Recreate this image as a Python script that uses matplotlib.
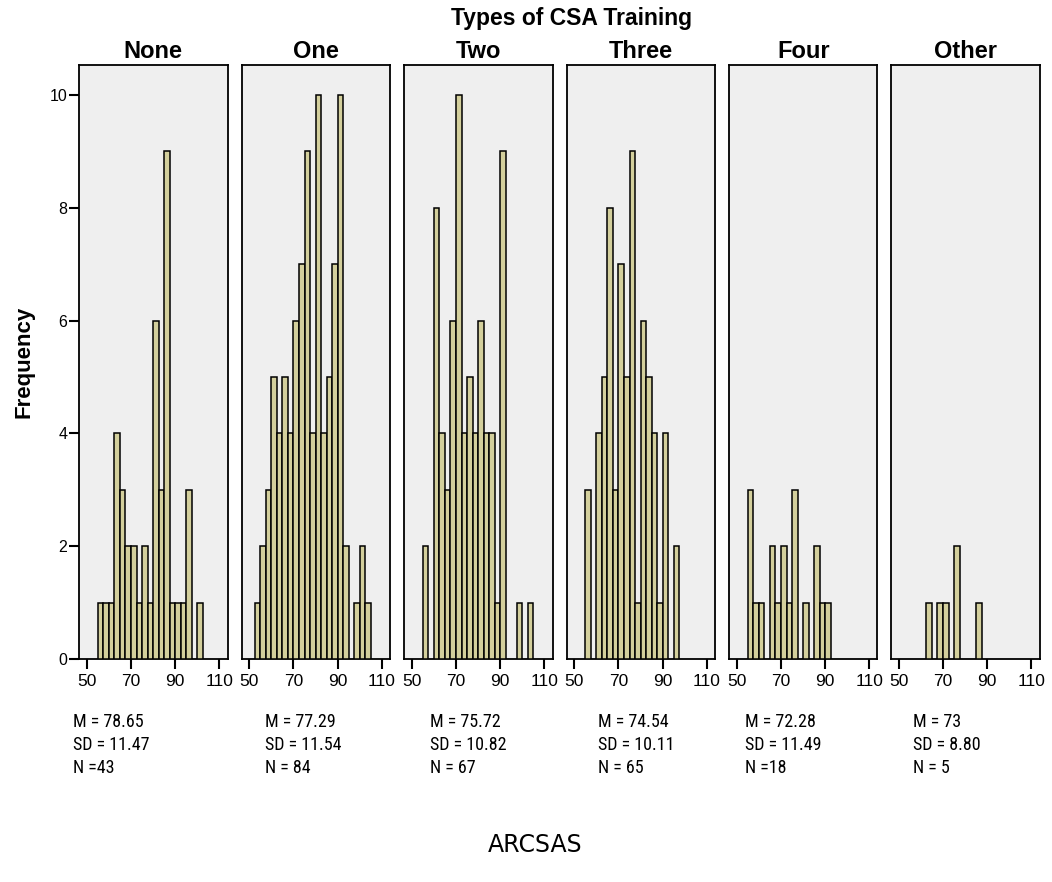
import matplotlib
matplotlib.use("Agg")
import matplotlib.pyplot as plt
import numpy as np

groups = ["None", "One", "Two", "Three", "Four", "Other"]
bin_starts = [52.5, 55, 57.5, 60, 62.5, 65, 67.5, 70, 72.5, 75, 77.5,
              80, 82.5, 85, 87.5, 90, 92.5, 95, 97.5, 100, 102.5]
counts_none = [0, 1, 1, 1, 4, 3, 2, 2, 1, 2, 1, 6, 3, 9, 1, 1, 1, 3, 0, 1, 0]
counts_one = [1, 2, 3, 5, 4, 5, 4, 6, 7, 9, 4, 10, 4, 5, 7, 10, 2, 0, 1, 2, 1]
counts_two = [0, 2, 0, 8, 4, 3, 6, 10, 4, 5, 4, 6, 4, 4, 1, 9, 0, 0, 1, 0, 1]
counts_three = [0, 3, 0, 4, 5, 8, 3, 7, 5, 9, 1, 6, 5, 4, 1, 4, 0, 2, 0, 0, 0]
counts_four = [0, 3, 1, 1, 0, 2, 1, 2, 1, 3, 0, 1, 0, 2, 1, 1, 0, 0, 0, 0, 0]
counts_other = [0, 0, 0, 0, 1, 0, 1, 1, 0, 2, 0, 0, 0, 1, 0, 0, 0, 0, 0, 0, 0]
all_counts = [counts_none, counts_one, counts_two, counts_three, counts_four, counts_other]

means = ["78.65", "77.29", "75.72", "74.54", "72.28", "73"]
sds = ["11.47", "11.54", "10.82", "10.11", "11.49", "8.80"]
ns = ["N =43", "N = 84", "N = 67", "N = 65", "N =18", "N = 5"]

x_ticks = [50, 70, 90, 110]
y_ticks = [0, 2, 4, 6, 8, 10]

W, H = 1052, 882
fig = plt.figure(figsize=(W / 100, H / 100), dpi=100)

bar_color = "#d3cf9c"
bg_color = "#efefef"
sans = ["Liberation Sans", "Arial", "DejaVu Sans"]
narrow = ["Liberation Sans Narrow", "Roboto Condensed", "Liberation Sans", "DejaVu Sans"]

panel_lefts = [79, 241.5, 404, 566.5, 729, 891]
panel_w = 148.5
top_px, bot_px = 65, 659
text_lefts = [73, 265, 430, 598, 745, 913]

for i, (g, cnt) in enumerate(zip(groups, all_counts)):
    l = panel_lefts[i]
    ax = fig.add_axes([l / W, 1 - bot_px / H, panel_w / W, (bot_px - top_px) / H])
    ax.set_facecolor(bg_color)
    xs = [b for b, c in zip(bin_starts, cnt) if c > 0]
    hs = [c for c in cnt if c > 0]
    ax.bar(xs, hs, width=2.5, align="edge", color=bar_color,
           edgecolor="black", linewidth=1.1, zorder=3)
    ax.set_xlim(46.4, 113.8)
    ax.set_ylim(0, 10.53)
    ax.set_xticks(x_ticks)
    ax.set_xticklabels([str(t) for t in x_ticks], fontsize=12.5, family=sans)
    ax.tick_params(axis="x", length=7, width=1.5, pad=4)
    if i == 0:
        ax.set_yticks(y_ticks)
        ax.set_yticklabels([str(t) for t in y_ticks], fontsize=11.5, family=sans)
        ax.tick_params(axis="y", length=7.5, width=1.5, pad=1)
    else:
        ax.set_yticks([])
    for s in ax.spines.values():
        s.set_linewidth(1.3)
        s.set_color("black")
    fig.text((l + panel_w / 2) / W, 1 - 52 / H, g, ha="center", va="center",
             fontsize=17, fontweight="bold", family=sans)
    tx = text_lefts[i] / W
    fig.text(tx, 1 - 722 / H, "M = " + means[i], ha="left", va="center", fontsize=13, family=narrow)
    fig.text(tx, 1 - 744.5 / H, "SD = " + sds[i], ha="left", va="center", fontsize=13, family=narrow)
    fig.text(tx, 1 - 768 / H, ns[i], ha="left", va="center", fontsize=13, family=narrow)

fig.text(572 / W, 1 - 18 / H, "Types of CSA Training", ha="center", va="center",
         fontsize=16.5, fontweight="bold", family=sans)
fig.text(24 / W, 1 - 362 / H, "Frequency", ha="center", va="center", rotation=90,
         fontsize=16, fontweight="bold", family=sans)
fig.text(535 / W, 1 - 845 / H, "ARCSAS", ha="center", va="center",
         fontsize=17, family=["DejaVu Sans"])

fig.savefig("out.png", dpi=100)
